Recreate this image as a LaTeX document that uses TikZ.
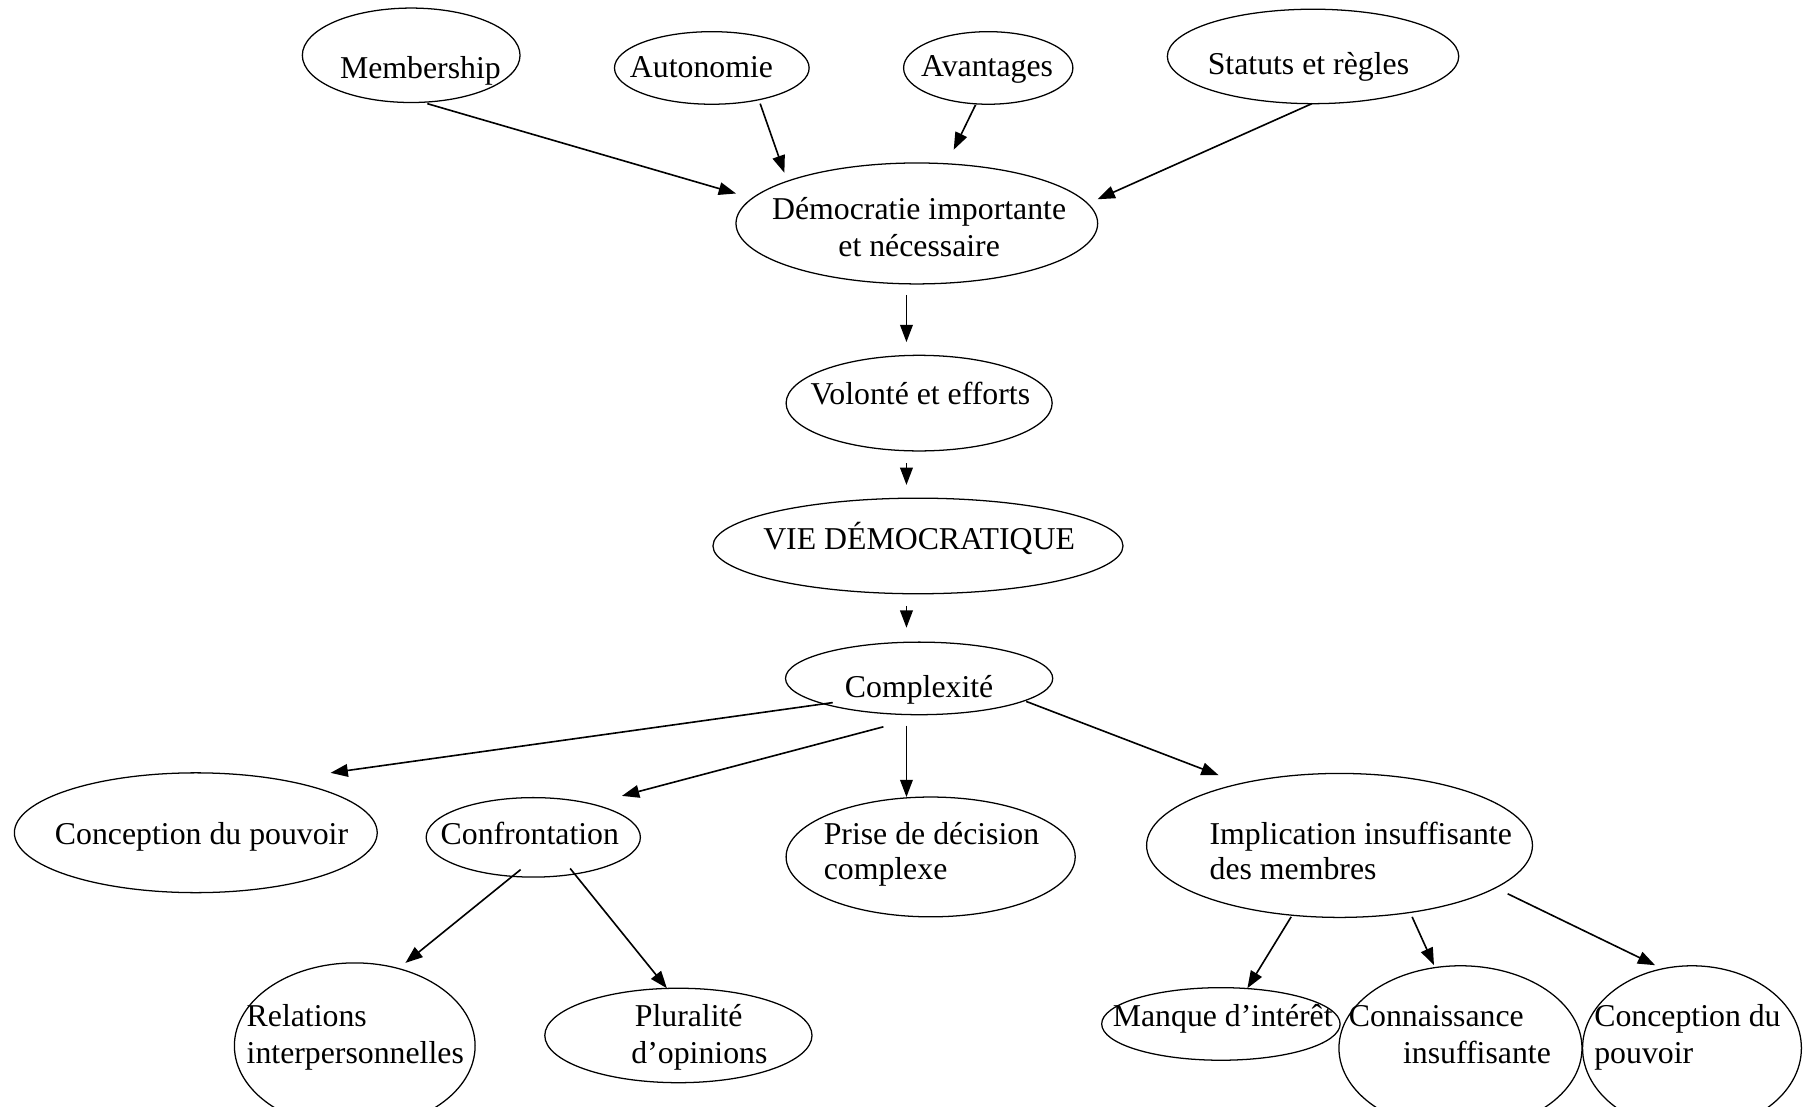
\documentclass[tikz,border=0pt]{standalone}
\usepackage{fontspec}
\setmainfont{Liberation Serif}
\usetikzlibrary{shapes.geometric,arrows.meta,calc}
\tikzset{
  ell/.style={draw, ellipse, inner sep=0pt, line width=1.1pt},
  tc/.style={inner sep=0pt, anchor=base},
  tl/.style={inner sep=0pt, anchor=base west},
  arr/.style={-{Triangle[length=15pt,width=11pt]}, line width=1.4pt},
}
\begin{document}
\begin{tikzpicture}[x=1pt, y=-1pt, font=\fontsize{27.6pt}{32pt}\selectfont]
\useasboundingbox (0,0) rectangle (1568,961);
\clip (0,0) rectangle (1568,961);
% ellipses
\node[ell, minimum width=189pt, minimum height=82pt] (mem) at (357,48) {};
\node[ell, minimum width=169pt, minimum height=63pt] (aut) at (618,59) {};
\node[ell, minimum width=147pt, minimum height=63pt] (avt) at (858,59) {};
\node[ell, minimum width=253pt, minimum height=82pt] (sta) at (1140,49) {};
\node[ell, minimum width=314pt, minimum height=105pt] (dem) at (796,194) {};
\node[ell, minimum width=231pt, minimum height=83pt] (vol) at (798,350) {};
\node[ell, minimum width=356pt, minimum height=83pt] (vie) at (797,474) {};
\node[ell, minimum width=232pt, minimum height=63pt] (cpx) at (798,589) {};
\node[ell, minimum width=315pt, minimum height=104pt] (co1) at (170,723) {};
\node[ell, minimum width=186pt, minimum height=69pt] (cnf) at (463,727) {};
\node[ell, minimum width=251pt, minimum height=104pt] (pri) at (808,744) {};
\node[ell, minimum width=335pt, minimum height=125pt] (imp) at (1163,734) {};
\node[ell, minimum width=209pt, minimum height=144pt] (rel) at (308,908) {};
\node[ell, minimum width=232pt, minimum height=82pt] (plu) at (589,899) {};
\node[ell, minimum width=207pt, minimum height=63pt] (man) at (1060,889) {};
\node[ell, minimum width=211pt, minimum height=143pt] (con) at (1268,910) {};
\node[ell, minimum width=190pt, minimum height=143pt] (pou) at (1469,910) {};
% texts
\node[tc] (tmem) at (365,68) {Membership};
\node[tc] (taut) at (609,67) {Autonomie};
\node[tc] (tavt) at (857,66) {Avantages};
\node[tc] (tsta) at (1136,65) {Statuts et règles};
\node[tc] (tdem1) at (798,191) {Démocratie importante};
\node[tc] (tdem2) at (798,223) {et nécessaire};
\node[tc] (tvol) at (799,351) {Volonté et efforts};
\node[tc] (tvie) at (798,477) {VIE DÉMOCRATIQUE};
\node[tc] (tcpx) at (798,606) {Complexité};
\node[tc] (tco1) at (175,733) {Conception du pouvoir};
\node[tc] (tcnf) at (460,733) {Confrontation};
\node[tl] (tpri1) at (715,733) {Prise de décision};
\node[tl] (tpri2) at (715,764) {complexe};
\node[tl] (timp1) at (1050,733) {Implication insuffisante};
\node[tl] (timp2) at (1050,764) {des membres};
\node[tl] (trel1) at (214,891) {Relations};
\node[tl] (trel2) at (214,923) {interpersonnelles};
\node[tl] (tplu1) at (551,891) {Pluralité};
\node[tl] (tplu2) at (548,923) {d’opinions};
\node[tl] (tman) at (966,891) {Manque d’intérêt};
\node[tl] (tcon1) at (1171,891) {Connaissance};
\node[tl] (tcon2) at (1218,923) {insuffisante};
\node[tl] (tpou1) at (1384,891) {Conception du};
\node[tl] (tpou2) at (1384,923) {pouvoir};
% connectors
\draw[arr] ($(mem)+(14,42)$) -- ($(dem)+(-157,-26)$);
\draw[arr] ($(aut)+(42,31)$) -- ($(dem)+(-115,-44)$);
\draw[arr] ($(avt)+(-11,32)$) -- ($(dem)+(32,-64)$);
\draw[arr] ($(sta)+(-1,41)$) -- ($(dem)+(157,-21)$);
\draw[arr] ($(dem)+(-9,62)$) -- ($(vol)+(-11,-53)$);
\draw[arr] ($(vol)+(-11,52)$) -- ($(vie)+(-10,-53)$);
\draw[arr] ($(vie)+(-10,52)$) -- ($(cpx)+(-11,-44)$);
\draw[arr] ($(cpx)+(-75,21)$) -- ($(co1)+(117,-52)$);
\draw[arr] ($(cpx)+(-31,42)$) -- ($(cnf)+(77,-36)$);
\draw[arr] ($(cpx)+(-11,41)$) -- ($(pri)+(-21,-52)$);
\draw[arr] ($(cpx)+(93,20)$) -- ($(imp)+(-105,-61)$);
\draw[arr] ($(cnf)+(-11,28)$) -- ($(rel)+(44,-72)$);
\draw[arr] ($(cnf)+(32,27)$) -- ($(plu)+(-10,-41)$);
\draw[arr] ($(imp)+(-42,62)$) -- ($(man)+(23,-31)$);
\draw[arr] ($(imp)+(63,62)$) -- ($(con)+(-23,-72)$);
\draw[arr] ($(imp)+(146,42)$) -- ($(pou)+(-32,-72)$);
\end{tikzpicture}
\end{document}
